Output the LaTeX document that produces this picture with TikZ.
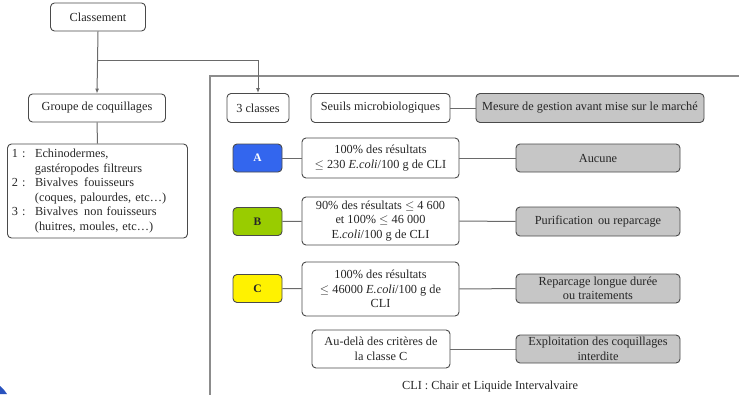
\documentclass[tikz,border=0pt]{standalone}
\usepackage{fontspec}
\setmainfont{Liberation Serif}
\usepackage{xcolor}
\usetikzlibrary{arrows.meta}

\definecolor{edge}{HTML}{4A4A4A}
\definecolor{link}{HTML}{6A6A6A}
\definecolor{frame}{HTML}{8C8C8C}
\definecolor{greyfill}{HTML}{C6C6C6}
\definecolor{classA}{HTML}{3366EE}
\definecolor{classB}{HTML}{99CC00}
\definecolor{classC}{HTML}{FFF200}

\newcommand{\retrait}{\hspace*{23pt}}
\newcommand{\numero}[1]{\makebox[23pt][l]{#1 :}}

\tikzset{
  box/.style={draw=edge, line width=0.9pt, rounded corners=4pt, align=center,
    inner sep=1pt, text=black!85, font=\fontsize{12.3}{14.5}\selectfont},
  greybox/.style={box, fill=greyfill},
  classbox/.style={box, minimum width=49pt, minimum height=28pt, font=\fontsize{11.5}{13}\selectfont\bfseries},
  conn/.style={draw=link, line width=1pt},
}

\begin{document}
\begin{tikzpicture}[x=1pt,y=-1pt]
  \useasboundingbox (0,0) rectangle (739,394);

  % outer frame
  \draw[frame, line width=1.6pt] (745,76) -- (210,76) -- (210,400);

  % left column
  \node[box, minimum width=95pt, minimum height=28pt] (classement) at (98,17) {Classement};
  \node[box, minimum width=137pt, minimum height=28pt] (groupe) at (97,108) {Groupe de coquillages};
  \node[box, minimum height=94pt, text width=171pt, align=left, inner xsep=4.5pt, inner ysep=3pt] (liste) at (97.5,191)
    {\numero{1}Echinodermes,\\
     \retrait gastéropodes filtreurs\\
     \numero{2}Bivalves\, fouisseurs\\
     \retrait (coques, palourdes, etc\dots)\\
     \numero{3}Bivalves\, non fouisseurs\\
     \retrait (huitres, moules, etc\dots)};

  % header row
  \node[box, minimum width=62pt, minimum height=29pt] (classes) at (258,108) {3 classes};
  \node[box, minimum width=139pt, minimum height=29pt] (seuils) at (380.5,108) {Seuils microbiologiques};
  \node[greybox, minimum width=228pt, minimum height=29pt] (mesure) at (590,108) {Mesure de gestion avant mise sur le marché};

  % class rows
  \node[classbox, fill=classA, text=white] (A) at (257.5,158) {A};
  \node[box, minimum width=157pt, minimum height=40pt] (seuilA) at (380.5,158)
    {100\% des résultats\\ $\leq$ 230 \textit{E.coli}/100 g de CLI};
  \node[greybox, minimum width=164pt, minimum height=28pt] (aucune) at (598,158) {Aucune};

  \node[classbox, fill=classB] (B) at (257.5,221.5) {B};
  \node[box, minimum width=157pt, minimum height=48pt] (seuilB) at (380.5,221)
    {90\% des résultats $\leq$ 4 600\\ et 100\% $\leq$ 46 000\\ E.\textit{coli}/100 g de CLI};
  \node[greybox, minimum width=164pt, minimum height=29pt] (purif) at (598,221.5) {Purification\, ou reparcage};

  \node[classbox, fill=classC] (C) at (257.5,288.5) {C};
  \node[box, minimum width=157pt, minimum height=54pt] (seuilC) at (380.5,289)
    {100\% des résultats\\ $\leq$ 46000 \textit{E.coli}/100 g de\\ CLI};
  \node[greybox, minimum width=164pt, minimum height=29pt] (reparc) at (598,288.5)
    {Reparcage longue durée\\ ou traitements};

  \node[box, minimum width=138pt, minimum height=38pt] (audela) at (381,349)
    {Au-delà des critères de\\ la classe C};
  \node[greybox, minimum width=164pt, minimum height=28pt] (exploit) at (598,349)
    {Exploitation des coquillages\\ interdite};

  \node[text=black!85, font=\fontsize{12.3}{14}\selectfont] (legende) at (490,387) {CLI : Chair et Liquide Intervalvaire};

  % connectors
  \coordinate (split) at (classement.south |- 0,60);
  \draw[conn, -{Latex[length=5pt,width=4pt]}] (classement.south) -- (groupe.north);
  \draw[conn, -{Latex[length=5pt,width=4pt]}] (split) -| (classes.north);
  \draw[conn] (groupe.south) -- (liste.north);
  \draw[conn] (seuils) -- (mesure);
  \draw[conn] (A) -- (seuilA) -- (aucune);
  \draw[conn] (B) -- (seuilB) -- (purif);
  \draw[conn] (C) -- (seuilC) -- (reparc);
  \draw[conn] (audela) -- (exploit);

  % corner mark
  \fill[classA!80!black] (0,394) -- (0,386) .. controls (3,388) and (5,391) .. (7,394) -- cycle;
\end{tikzpicture}
\end{document}
